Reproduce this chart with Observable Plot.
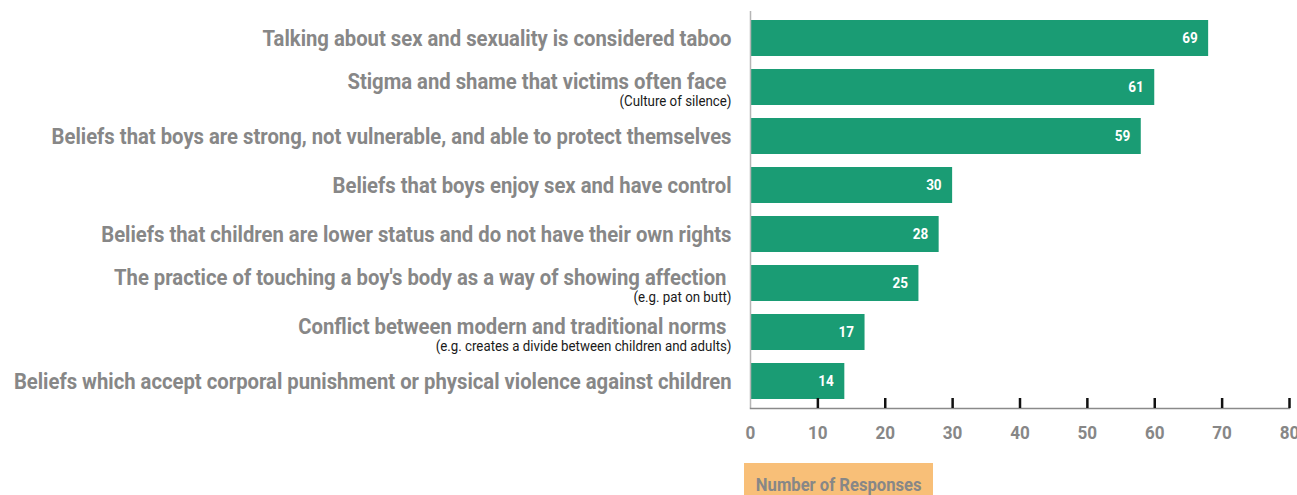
<!DOCTYPE html>
<html>
<head>
<meta charset="utf-8">
<script src="https://cdn.jsdelivr.net/npm/d3@7"></script>
<script src="https://cdn.jsdelivr.net/npm/@observablehq/plot@0.6"></script>
<style>
  html, body { margin: 0; padding: 0; background: #fff; }
  #wrap { position: relative; width: 1297px; height: 495px; overflow: hidden; font-family: Roboto, sans-serif; }
  #xlabel { position: absolute; left: 744px; top: 463px; width: 189px; height: 40px; background: #f8bf78; white-space: nowrap; text-align: center; }
  #xlabel span { display: inline-block; color: #878787; font-weight: bold; font-size: 19px; line-height: 44px; transform: scaleX(0.875); transform-origin: center; }
</style>
</head>
<body>
<div id="wrap"><div id="chart"></div><div id="xlabel"><span>Number of Responses</span></div></div>
<script>
const categories = [
  "Talking about sex and sexuality is considered taboo",
  "Stigma and shame that victims often face\u00a0",
  "Beliefs that boys are strong, not vulnerable, and able to protect themselves",
  "Beliefs that boys enjoy sex and have control",
  "Beliefs that children are lower status and do not have their own rights",
  "The practice of touching a boy's body as a way of showing affection\u00a0",
  "Conflict between modern and traditional norms\u00a0",
  "Beliefs which accept corporal punishment or physical violence against children"
];
const subLabels = ["", "(Culture of silence)", "", "", "", "(e.g. pat on butt)", "(e.g. creates a divide between children and adults)", ""];
const values = [68, 60, 58, 30, 28, 25, 17, 14];
const valueLabels = ["69", "61", "59", "30", "28", "25", "17", "14"];
const xTicks = [0, 10, 20, 30, 40, 50, 60, 70, 80];

const data = categories.map((c, i) => ({cat: c, sub: subLabels[i], value: values[i], label: valueLabels[i]}));
const withSub = data.filter(d => d.sub);
const noSub = data.filter(d => !d.sub);

const green = "#1a9c74";
const gray = "#878787";

const chart = Plot.plot({
  width: 1297,
  height: 462,
  marginLeft: 750,
  marginRight: 8,
  marginTop: 11,
  marginBottom: 54,
  style: {fontFamily: "Roboto, sans-serif", background: "#fff", overflow: "visible"},
  x: {domain: [0, 80], axis: null},
  y: {domain: categories, paddingInner: 0.27, paddingOuter: 0.15, axis: null},
  marks: [
    Plot.barX(data, {y: "cat", x: "value", fill: green}),
    Plot.ruleX([0], {stroke: "#b5b5b5", strokeWidth: 1.5}),
    Plot.frame({anchor: "bottom", stroke: "#8a8a8a", strokeWidth: 1.5}),
    Plot.axisX({ticks: xTicks.filter(t => t > 0), tickSize: -10, text: null, label: null, stroke: "#111", strokeWidth: 2.5}),
    Plot.axisX({ticks: xTicks, tickSize: 0, tickPadding: 17, label: null, fontSize: 19, fontWeight: "bold", fill: gray, tickFormat: d => String(d)}),
    Plot.text(noSub, {y: "cat", text: "cat", frameAnchor: "left", textAnchor: "end", dx: -19, fontSize: 22.5, fontWeight: "bold", fill: gray}),
    Plot.text(withSub, {y: "cat", text: "cat", frameAnchor: "left", textAnchor: "end", dx: -19, dy: -6, fontSize: 22.5, fontWeight: "bold", fill: gray}),
    Plot.text(withSub, {y: "cat", text: "sub", frameAnchor: "left", textAnchor: "end", dx: -19, dy: 14, fontSize: 14, fill: "#1a1a1a"}),
    Plot.text(data, {y: "cat", x: "value", text: "label", textAnchor: "end", dx: -11, fontSize: 15, fontWeight: "bold", fill: "#fff"})
  ]
});
document.getElementById("chart").appendChild(chart);

// condense all texts horizontally (no condensed font installed)
chart.querySelectorAll("text").forEach(t => {
  const fs = parseFloat(getComputedStyle(t).fontSize);
  const SX = fs === 14 ? 0.95 : 0.9;
  const L = t.getComputedTextLength();
  if (L > 0) {
    t.setAttribute("textLength", (L * SX).toFixed(2));
    t.setAttribute("lengthAdjust", "spacingAndGlyphs");
  }
});
</script>
</body>
</html>
